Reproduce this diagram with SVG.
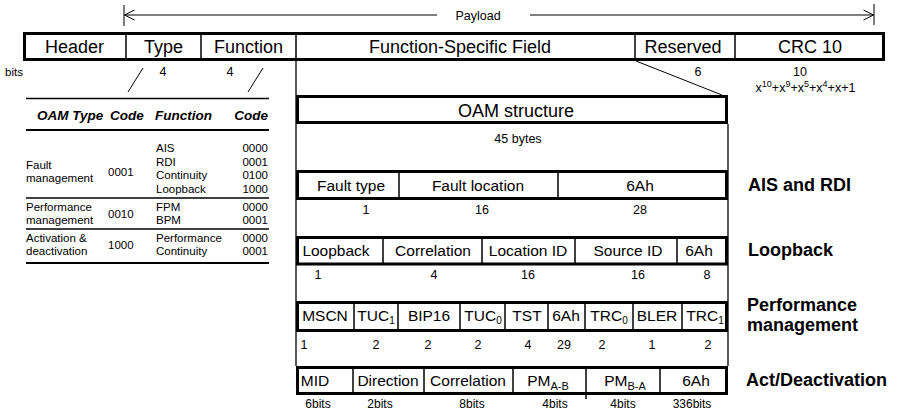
<svg xmlns="http://www.w3.org/2000/svg" width="897" height="411" viewBox="0 0 897 411">
<defs>
<style>
text{font-family:"Liberation Sans",Arial,sans-serif;fill:#000}
.h{font-size:18px;text-anchor:middle}
.f{font-size:15.5px;text-anchor:middle}
.n{font-size:12.5px;text-anchor:middle}
.s{font-size:12px;text-anchor:middle}
.b{font-size:18px;font-weight:bold}
.t{font-size:11.5px}
.te{font-size:11.5px;text-anchor:end}
.th{font-size:13.5px;font-weight:bold;font-style:italic}
.the{font-size:13.5px;font-weight:bold;font-style:italic;text-anchor:end}
.box{fill:#fff;stroke:#000;stroke-width:3}
.div{stroke:#000;stroke-width:1.5;fill:none}
.thin{stroke:#000;stroke-width:1;fill:none}
.rule{stroke:#000;fill:none}
</style>
<marker id="open" viewBox="0 0 12 12" refX="11" refY="6" markerWidth="12" markerHeight="12" markerUnits="userSpaceOnUse" orient="auto"><path d="M1,1 L11,6 L1,11" fill="none" stroke="#000" stroke-width="1"/></marker>
</defs>
<rect width="897" height="411" fill="#fff"/>

<g id="connectors">
<line class="thin" x1="437" y1="15" x2="124.5" y2="15" marker-end="url(#open)"/>
<line class="thin" x1="530" y1="15" x2="873.5" y2="15" marker-end="url(#open)"/>
<line class="thin" x1="124" y1="5" x2="124" y2="26"/>
<line class="thin" x1="874" y1="4" x2="874" y2="25"/>
<line class="thin" x1="143" y1="68" x2="128" y2="92"/>
<line class="thin" x1="263" y1="68" x2="248" y2="92"/>
<line class="thin" x1="636" y1="61" x2="722" y2="95"/>
<line class="rule" stroke-width="1.3" x1="296" y1="61" x2="296" y2="366"/>
<line class="rule" stroke-width="1.3" x1="728" y1="124" x2="728" y2="366"/>
</g>
<text class="n" x="478" y="19.5">Payload</text>

<g id="header-bar">
<rect class="box" x="24.5" y="33.5" width="859" height="26"/>
<line class="div" x1="126" y1="33" x2="126" y2="60"/>
<line class="div" x1="201" y1="33" x2="201" y2="60"/>
<line class="div" stroke-width="2" x1="296" y1="33" x2="296" y2="60"/>
<line class="div" x1="635" y1="33" x2="635" y2="60"/>
<line class="div" x1="735" y1="33" x2="735" y2="60"/>
<text class="h" x="74.5" y="52.5">Header</text>
<text class="h" x="163.5" y="52.5">Type</text>
<text class="h" x="248.5" y="52.5">Function</text>
<text class="h" x="460" y="52.5">Function-Specific Field</text>
<text class="h" x="683" y="52.5">Reserved</text>
<text class="h" x="810" y="52.5">CRC 10</text>
<text class="t" x="5" y="76" font-size="12.5">bits</text>
<text class="n" x="163" y="76">4</text>
<text class="n" x="230" y="76">4</text>
<text class="n" x="698" y="76">6</text>
<text class="n" x="800" y="76">10</text>
<text class="n" x="805.5" y="92">x<tspan dy="-5" font-size="9">10</tspan><tspan dy="5">+x</tspan><tspan dy="-5" font-size="9">9</tspan><tspan dy="5">+x</tspan><tspan dy="-5" font-size="9">5</tspan><tspan dy="5">+x</tspan><tspan dy="-5" font-size="9">4</tspan><tspan dy="5">+x+1</tspan></text>
</g>

<g id="oam-table">
<line class="rule" stroke-width="1.5" x1="26" y1="98.5" x2="269" y2="98.5"/>
<text class="th" x="37" y="120">OAM Type</text>
<text class="th" x="110" y="120">Code</text>
<text class="th" x="155" y="120">Function</text>
<text class="the" x="268" y="120">Code</text>
<line class="rule" stroke-width="2" x1="26" y1="130" x2="269" y2="130"/>
<text class="t" x="26" y="169">Fault</text>
<text class="t" x="26" y="182">management</text>
<text class="t" x="108" y="175.5">0001</text>
<text class="t" x="156" y="152">AIS</text>
<text class="t" x="156" y="165.5">RDI</text>
<text class="t" x="156" y="179">Continuity</text>
<text class="t" x="156" y="192.5">Loopback</text>
<text class="te" x="268" y="152">0000</text>
<text class="te" x="268" y="165.5">0001</text>
<text class="te" x="268" y="179">0100</text>
<text class="te" x="268" y="192.5">1000</text>
<line class="rule" stroke-width="1.5" x1="26" y1="198" x2="269" y2="198"/>
<text class="t" x="26" y="211">Performance</text>
<text class="t" x="26" y="224">management</text>
<text class="t" x="108" y="217.5">0010</text>
<text class="t" x="156" y="211">FPM</text>
<text class="t" x="156" y="224">BPM</text>
<text class="te" x="268" y="211">0000</text>
<text class="te" x="268" y="224">0001</text>
<line class="rule" stroke-width="1.5" x1="26" y1="229" x2="269" y2="229"/>
<text class="t" x="26" y="242">Activation &amp;</text>
<text class="t" x="26" y="255">deactivation</text>
<text class="t" x="108" y="248.5">1000</text>
<text class="t" x="156" y="242">Performance</text>
<text class="t" x="156" y="255">Continuity</text>
<text class="te" x="268" y="242">0000</text>
<text class="te" x="268" y="255">0001</text>
<line class="rule" stroke-width="2" x1="26" y1="263" x2="269" y2="263"/>
</g>

<g id="oam-structure">
<rect class="box" x="297.5" y="96.5" width="429" height="26"/>
<text class="h" x="516" y="116.5">OAM structure</text>
<text class="n" x="518" y="142.5">45 bytes</text>
</g>

<g id="ais-rdi">
<rect class="box" x="297.5" y="171.5" width="429" height="27"/>
<line class="div" x1="399" y1="171" x2="399" y2="199"/>
<line class="div" x1="558" y1="171" x2="558" y2="199"/>
<text class="f" x="351" y="190.5">Fault type</text>
<text class="f" x="478" y="190.5">Fault location</text>
<text class="f" x="640" y="190.5">6Ah</text>
<text class="n" x="366" y="214">1</text>
<text class="n" x="482" y="214">16</text>
<text class="n" x="640" y="214">28</text>
<text class="b" x="748" y="191">AIS and RDI</text>
</g>

<g id="loopback">
<rect class="box" x="297.5" y="237.5" width="429" height="26.5"/>
<line class="div" x1="383" y1="237" x2="383" y2="264"/>
<line class="div" x1="482" y1="237" x2="482" y2="264"/>
<line class="div" x1="575" y1="237" x2="575" y2="264"/>
<line class="div" x1="677" y1="237" x2="677" y2="264"/>
<text class="f" x="336" y="255.5">Loopback</text>
<text class="f" x="433" y="255.5">Correlation</text>
<text class="f" x="528" y="255.5">Location ID</text>
<text class="f" x="628" y="255.5">Source ID</text>
<text class="f" x="699" y="255.5">6Ah</text>
<text class="n" x="318" y="279">1</text>
<text class="n" x="434" y="279">4</text>
<text class="n" x="528" y="279">16</text>
<text class="n" x="638" y="279">16</text>
<text class="n" x="707" y="279">8</text>
<text class="b" x="748" y="256">Loopback</text>
</g>

<g id="performance">
<rect class="box" x="297.5" y="302.5" width="429" height="28"/>
<line class="div" x1="354" y1="302" x2="354" y2="331"/>
<line class="div" x1="398" y1="302" x2="398" y2="331"/>
<line class="div" x1="460" y1="302" x2="460" y2="331"/>
<line class="div" x1="505" y1="302" x2="505" y2="331"/>
<line class="div" x1="548" y1="302" x2="548" y2="331"/>
<line class="div" x1="585" y1="302" x2="585" y2="331"/>
<line class="div" x1="633" y1="302" x2="633" y2="331"/>
<line class="div" x1="682" y1="302" x2="682" y2="331"/>
<text class="f" x="325" y="321">MSCN</text>
<text class="f" x="376" y="321">TUC<tspan dy="3" font-size="10">1</tspan></text>
<text class="f" x="429" y="321">BIP16</text>
<text class="f" x="483" y="321">TUC<tspan dy="3" font-size="10">0</tspan></text>
<text class="f" x="527" y="321">TST</text>
<text class="f" x="566" y="321">6Ah</text>
<text class="f" x="609" y="321">TRC<tspan dy="3" font-size="10">0</tspan></text>
<text class="f" x="657" y="321">BLER</text>
<text class="f" x="705" y="321">TRC<tspan dy="3" font-size="10">1</tspan></text>
<text class="n" x="304" y="349">1</text>
<text class="n" x="376" y="349">2</text>
<text class="n" x="428" y="349">2</text>
<text class="n" x="478" y="349">2</text>
<text class="n" x="528" y="349">4</text>
<text class="n" x="564" y="349">29</text>
<text class="n" x="602" y="349">2</text>
<text class="n" x="652" y="349">1</text>
<text class="n" x="708" y="349">2</text>
<text class="b" x="747" y="311" font-size="17.5">Performance</text>
<text class="b" x="747" y="330.5" font-size="17.5">management</text>
</g>

<g id="act-deactivation">
<rect class="box" x="297.5" y="367.5" width="429" height="26"/>
<line class="div" x1="353" y1="367" x2="353" y2="394"/>
<line class="div" x1="424" y1="367" x2="424" y2="394"/>
<line class="div" x1="513" y1="367" x2="513" y2="394"/>
<line class="div" x1="586" y1="367" x2="586" y2="399"/>
<line class="div" x1="660" y1="367" x2="660" y2="394"/>
<text class="f" x="315" y="385.5">MID</text>
<text class="f" x="388" y="385.5">Direction</text>
<text class="f" x="468" y="385.5">Correlation</text>
<text class="f" x="548" y="385.5">PM<tspan dy="4" font-size="11">A-B</tspan></text>
<text class="f" x="625" y="385.5">PM<tspan dy="4" font-size="11">B-A</tspan></text>
<text class="f" x="696" y="385.5">6Ah</text>
<text class="s" x="318" y="408">6bits</text>
<text class="s" x="380" y="408">2bits</text>
<text class="s" x="472" y="408">8bits</text>
<text class="s" x="555" y="408">4bits</text>
<text class="s" x="623" y="408">4bits</text>
<text class="s" x="692" y="408">336bits</text>
<text class="b" x="746" y="386">Act/Deactivation</text>
</g>
</svg>
